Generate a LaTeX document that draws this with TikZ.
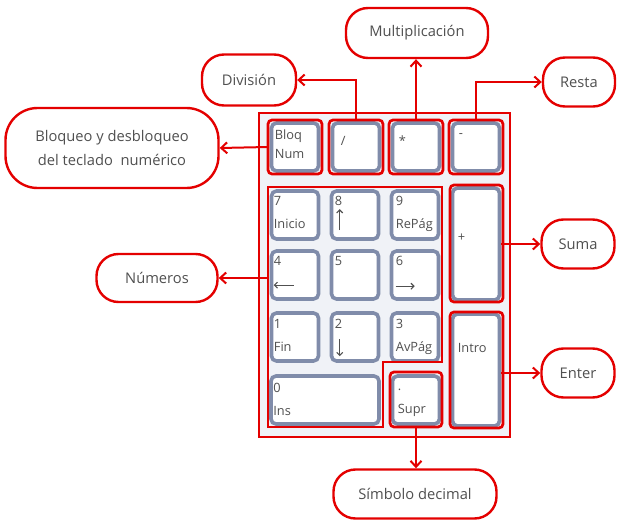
\documentclass[tikz,border=0pt]{standalone}
\usepackage{fontspec}
\setmainfont{Open Sans}
\usetikzlibrary{arrows.meta}
\definecolor{kred}{RGB}{228,0,0}
\definecolor{kblue}{RGB}{128,140,170}
\definecolor{ktext}{RGB}{80,80,80}
\definecolor{kbg}{RGB}{240,242,247}
\begin{document}
\begin{tikzpicture}[x=1pt,y=-1pt,
  callout/.style={draw=kred, line width=2.4pt, fill=white, rounded corners=22pt, text=ktext,
    font=\fontsize{14.7}{24}\selectfont, align=center, inner sep=0pt},
  keybox/.style={draw=kblue, line width=3.6pt, fill=white, rounded corners=5pt, inner sep=0pt,
    minimum width=47pt, minimum height=48pt},
  hl/.style={draw=kred, line width=2.7pt, rounded corners=4pt},
  keylab/.style={anchor=north west, text=ktext, font=\fontsize{12.8}{22.5}\selectfont, align=left, inner sep=0pt},
  karrow/.style={draw=ktext, line width=1.1pt, -{Straight Barb[length=3pt,width=6pt,line width=1.1pt]}},
  conn/.style={draw=kred, line width=2pt, -{Straight Barb[length=6pt,width=11pt,line width=2pt]}}
]
\useasboundingbox (0,0) rectangle (640,524);
\fill[white] (0,0) rectangle (640,524);

% keyboard frame
\draw[kred, line width=1.2pt, fill=kbg] (259,113) rectangle (510,437);

% keys
\node[keybox] (kbloq) at (295,147) {};
\node[keybox] (kdiv)  at (356,147) {};
\node[keybox] (kmul)  at (416,147) {};
\node[keybox] (kmin)  at (476,147) {};
\node[keybox] (k7) at (295,215) {};
\node[keybox] (k8) at (355,215) {};
\node[keybox] (k9) at (415,215) {};
\node[keybox, minimum height=112pt] (kplus) at (476,244) {};
\node[keybox] (k4) at (295,275) {};
\node[keybox] (k5) at (355,275) {};
\node[keybox] (k6) at (415,275) {};
\node[keybox] (k1) at (295,337) {};
\node[keybox] (k2) at (355,337) {};
\node[keybox] (k3) at (415,337) {};
\node[keybox, minimum height=112pt] (kintro) at (476,370) {};
\node[keybox, minimum width=108pt] (k0) at (325,400) {};
\node[keybox] (ksupr) at (416,400) {};

% key labels
\node[keylab, font=\fontsize{12.8}{19}\selectfont] (tbloq) at ([shift={(5,8)}]kbloq.north west) {Bloq\\Num};
\node[keylab] (tdiv) at ([shift={(10,15)}]kdiv.north west) {/};
\node[keylab] (tmul) at ([shift={(8,14)}]kmul.north west) {*};
\node[keylab] (tmin) at ([shift={(8,12)}]kmin.north west) {-};
\node[keylab] (t7) at ([shift={(4,7)}]k7.north west) {7\\Inicio};
\node[keylab] (t8) at ([shift={(5,7)}]k8.north west) {8};
\node[keylab] (t9) at ([shift={(6,7)}]k9.north west) {9\\RePág};
\node[keylab] (t4) at ([shift={(4,7)}]k4.north west) {4};
\node[keylab] (t5) at ([shift={(5,7)}]k5.north west) {5};
\node[keylab] (t6) at ([shift={(6,7)}]k6.north west) {6};
\node[keylab] (t1) at ([shift={(4,8)}]k1.north west) {1\\Fin};
\node[keylab] (t2) at ([shift={(5,8)}]k2.north west) {2};
\node[keylab] (t3) at ([shift={(6,8)}]k3.north west) {3\\AvPág};
\node[keylab] (t0) at ([shift={(4,9)}]k0.north west) {0\\Ins};
\node[keylab] (tsupr) at ([shift={(7,15)}]ksupr.north west) {.\\Supr};
\node[keylab] (tplus) at ([shift={(7,47)}]kplus.north west) {+};
\node[keylab] (tintro) at ([shift={(7,31)}]kintro.north west) {Intro};

% arrow glyphs on keys
\draw[karrow] ([shift={(10,41)}]k8.north west) -- ([shift={(10,20)}]k8.north west);
\draw[karrow] ([shift={(24,36)}]k4.north west) -- ([shift={(4,36)}]k4.north west);
\draw[karrow] ([shift={(6,37)}]k6.north west) -- ([shift={(25,37)}]k6.north west);
\draw[karrow] ([shift={(10,28)}]k2.north west) -- ([shift={(10,45)}]k2.north west);

% red highlights
\draw[hl] (268,120) rectangle (322,174);
\draw[hl] (329,120) rectangle (383,174);
\draw[hl] (389,120) rectangle (443,174);
\draw[hl] (449,120) rectangle (503,174);
\draw[hl] (450,185) rectangle (503,302);
\draw[hl] (450,312) rectangle (503,428);
\draw[hl] (390,372) rectangle (442,427);
\draw[kred, line width=2.7pt] (268,187) -- (442,187) -- (442,362) -- (383,362) -- (383,427) -- (268,427) -- cycle;
\coordinate (numL) at (268,278);

% callouts
\node[callout, minimum width=142pt, minimum height=50pt] (mult) at (417,33) {Multiplicación};
\node[callout, minimum width=94pt, minimum height=51pt] (div) at (249,80) {División};
\node[callout, minimum width=72pt, minimum height=49pt] (resta) at (579,82) {Resta};
\node[callout, minimum width=213pt, minimum height=80pt, rounded corners=32pt] (bloq) at (112,148) {Bloqueo y desbloqueo\\del teclado\ \ numérico};
\node[callout, minimum width=73pt, minimum height=49pt] (suma) at (578,244) {Suma};
\node[callout, minimum width=121pt, minimum height=48pt] (num) at (157,278) {Números};
\node[callout, minimum width=73pt, minimum height=49pt] (enter) at (578,373) {Enter};
\node[callout, minimum width=163pt, minimum height=49pt] (simb) at (415,494) {Símbolo decimal};

% connectors
\draw[conn] (kbloq.west -| 268,0) -- (bloq.east);
\draw[conn] (kdiv.north) |- (div.east);
\draw[conn] (kmul.north) -- (kmul.north |- mult.south);
\draw[conn] (kmin.north) |- (resta.west);
\draw[conn] (kplus.east) -- (suma.west);
\draw[conn] (enter.west -| kintro.east) -- (enter.west);
\draw[conn] (numL) -- (num.east);
\draw[conn] (ksupr.south) -- (ksupr.south |- simb.north);
\end{tikzpicture}
\end{document}
